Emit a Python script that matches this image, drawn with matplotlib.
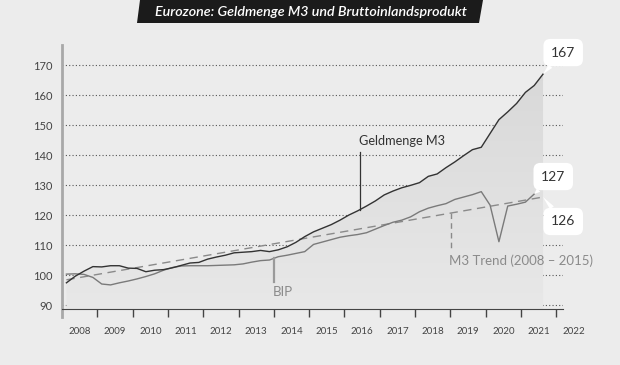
import matplotlib

matplotlib.use("Agg")
import matplotlib.pyplot as plt  # noqa: E402
import numpy as np  # noqa: E402
from matplotlib.colors import LinearSegmentedColormap  # noqa: E402
from matplotlib.patches import Polygon  # noqa: E402

plt.rcParams["font.family"] = ["Lato", "DejaVu Sans"]

TITLE = "Eurozone: Geldmenge M3 und Bruttoinlandsprodukt"

# Quarterly index values (2008 = ~100), plotted mid-quarter
M3_START = 2008.125
m3 = [97.4, 99.6, 101.3, 102.8, 102.7, 103.1, 103.1, 102.3,
      102.2, 101.1, 101.6, 101.8, 102.4, 103.2, 104.0, 104.2,
      105.3, 106.0, 106.6, 107.4, 107.6, 107.8, 108.2, 107.8,
      108.4, 109.4, 110.9, 112.8, 114.4, 115.6, 116.8, 118.3,
      120.0, 121.4, 123.0, 124.7, 126.7, 128.0, 129.1, 129.9,
      130.8, 132.9, 133.7, 135.8, 137.7, 139.8, 141.8, 142.6,
      147.2, 151.8, 154.4, 157.2, 160.9, 163.2, 167.0]
bip = [100.3, 100.4, 100.2, 99.2, 97.0, 96.7, 97.4, 98.0,
       98.7, 99.5, 100.4, 101.6, 102.5, 103.0, 103.1, 103.1,
       103.1, 103.2, 103.3, 103.4, 103.7, 104.3, 104.8, 105.0,
       106.1, 106.6, 107.2, 107.8, 110.2, 111.0, 111.8, 112.6,
       113.1, 113.5, 114.1, 115.3, 116.5, 117.6, 118.3, 119.4,
       121.1, 122.3, 123.1, 123.8, 125.2, 126.0, 126.8, 127.8,
       123.3, 111.1, 123.0, 123.6, 124.3, 127.0]
# M3 trend 2008-2015, extended: start / end points
trend_x = [2008.125, 2021.625]
trend_y = [98.4, 126.0]

years = list(range(2008, 2023))
yticks = [90, 100, 110, 120, 130, 140, 150, 160, 170]

BG = "#ececec"
DARK = "#333333"
GREY = "#8a8a8a"

m3_x = M3_START + 0.25 * np.arange(len(m3))
bip_x = M3_START + 0.25 * np.arange(len(bip))

fig = plt.figure(figsize=(6.2, 3.65), dpi=100, facecolor=BG)
ax = fig.add_axes([62 / 620, 1 - 317 / 365, (563 - 62) / 620, (317 - 45) / 365])
ax.set_facecolor(BG)

x0, x1 = 2008.0, 2022.19
y0, y1 = 86.0, 176.7
base = 88.7

# shaded area under M3 with a soft vertical gradient
poly = ax.fill_between(m3_x, m3, base, facecolor="none", edgecolor="none")
cmap = LinearSegmentedColormap.from_list("shade", ["#e8e8e8", "#d8d8d8"])
grad = np.linspace(0, 1, 256).reshape(-1, 1)
im = ax.imshow(grad, extent=[x0, x1, base, 170], origin="lower",
               aspect="auto", cmap=cmap, zorder=1)
im.set_clip_path(poly.get_paths()[0], transform=ax.transData)

ax.plot(trend_x, trend_y, color=GREY, lw=1, dashes=(6, 4), zorder=3)
ax.plot(bip_x, bip, color="#7a7a7a", lw=1, zorder=4)
ax.plot(m3_x, m3, color=DARK, lw=1, zorder=5)

ax.set_xlim(x0, x1)
ax.set_ylim(y0, y1)

ax.set_yticks(yticks)
ax.tick_params(axis="y", length=0, pad=7, labelsize=8, labelcolor="#444444")
ax.grid(axis="y", linestyle=(0, (1, 2)), color="#555555", lw=0.8)
ax.set_axisbelow(True)

ax.set_xticks(years[1:])
ax.set_xticklabels([])
ax.tick_params(axis="x", direction="out", length=5.8, width=1, color="#444444")
for yr in years:
    ax.text(yr + 0.5, 81.0, str(yr), ha="center", va="center",
            fontsize=7, color="#444444", clip_on=False)

for s in ("top", "right"):
    ax.spines[s].set_visible(False)
ax.spines["bottom"].set_position(("data", base))
ax.spines["bottom"].set_color("#444444")
ax.spines["left"].set_color("#a8a8a8")
ax.spines["left"].set_linewidth(2)

# series labels with leader lines
gx = 2016.43
ax.plot([gx, gx], [141.0, np.interp(gx, m3_x, m3)], color=DARK, lw=0.9, zorder=6)
ax.text(gx - 0.03, 144.7, "Geldmenge M3", ha="left", va="center",
        fontsize=9.2, color=DARK)

bx = 2014.0
ax.plot([bx, bx], [np.interp(bx, bip_x, bip), 97.7], color="#9a9a9a", lw=1.6, zorder=6)
ax.text(bx - 0.03, 94.3, "BIP", ha="left", va="center", fontsize=9.5, color=GREY)

tx = 2019.01
ax.plot([tx, tx], [np.interp(tx, trend_x, trend_y), 108.3], color=GREY,
        lw=1, dashes=(4, 3), zorder=6)
ax.text(tx - 0.05, 104.8, "M3 Trend (2008 \u2013 2015)", ha="left", va="center",
        fontsize=9.5, color=GREY)

# end value callouts
box = dict(boxstyle="round,pad=0.55,rounding_size=0.5", fc="white", ec="none")
wedge = dict(arrowstyle="wedge,tail_width=0.35,shrink_factor=0.5", fc="white",
             ec="none", shrinkA=0, shrinkB=0)
callouts = [
    (m3_x[-1], m3[-1], f"{m3[-1]:.0f}", (14.5, 15.5)),
    (bip_x[-1], bip[-1], f"{bip[-1]:.0f}", (13.7, 12.6)),
    (trend_x[-1], trend_y[-1], f"{trend_y[-1]:.0f}", (14.5, -17.6)),
]
for px, py, label, off in callouts:
    ax.annotate(label, xy=(px, py), xytext=off, textcoords="offset points",
                ha="center", va="center", fontsize=10, color=DARK,
                bbox=box, arrowprops=wedge, zorder=8, annotation_clip=False)

# title banner
fig.patches.append(Polygon([(137 / 620, 1 - 23 / 365), (140 / 620, 1.0),
                            (483 / 620, 1.0), (479 / 620, 1 - 23 / 365)],
                           closed=True, transform=fig.transFigure,
                           fc="#1b1b1b", ec="none"))
fig.text(311 / 620, 1 - 12 / 365, TITLE, ha="center", va="center",
         fontsize=10.3, fontweight="semibold", fontstyle="italic", color="white")

fig.savefig("out.png", dpi=100, facecolor=BG)
